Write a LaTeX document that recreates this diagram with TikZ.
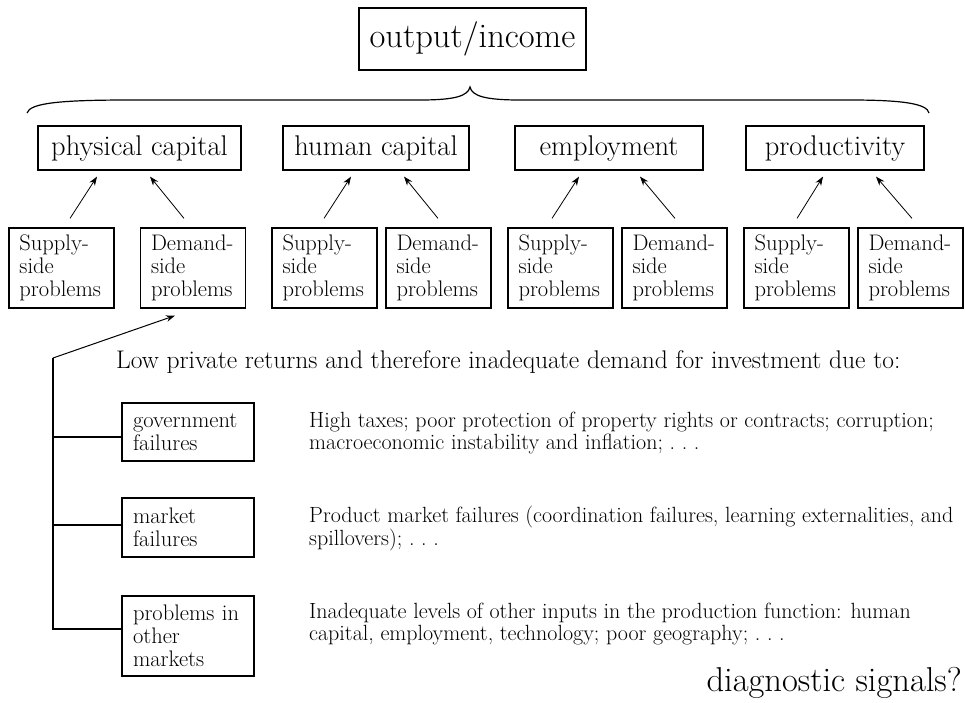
\documentclass[tikz,border=0pt]{standalone}
\usetikzlibrary{arrows.meta,calc}
\newcommand{\bigfnt}{\fontsize{34.5}{40}\selectfont}
\newcommand{\midfnt}{\fontsize{28.5}{32}\selectfont}
\newcommand{\lowfnt}{\fontsize{25.5}{29}\selectfont}
\newcommand{\boxfnt}{\fontsize{22.5}{23}\selectfont}
\newcommand{\descfnt}{\fontsize{22}{22.5}\selectfont}
\newcommand{\spdots}{.\ .\ .}
\begin{document}
\begin{tikzpicture}[x=1pt,y=-1pt,
  boxline/.style={draw, line width=1.2pt},
  topbox/.style={boxline, minimum width=227pt, minimum height=62pt, inner sep=0pt, font=\bigfnt},
  catbox/.style={boxline, minimum height=44pt, inner sep=0pt, font=\midfnt},
  probbox/.style={boxline, text width=84pt, inner xsep=10.5pt, inner ysep=0pt, minimum height=80pt, align=left, font=\boxfnt},
  failbox/.style={boxline, text width=110pt, inner xsep=11pt, inner ysep=0pt, align=left, font=\boxfnt},
  desc/.style={anchor=base west, inner sep=0pt, font=\descfnt},
  arr/.style={-{Stealth[length=9pt,width=6.5pt]}, line width=0.8pt},
  tree/.style={line width=1.2pt},
  bracel/.style={line width=1.2pt}
]
\useasboundingbox (0,0) rectangle (965,702);

% top
\node[topbox] (out) at (472.5,39) {output/income};

% brace
\draw[bracel] (27,113) .. controls (30,103) and (60,100) .. (130,100) -- (420,100)
  .. controls (455,100) and (468,96) .. (470,87)
  .. controls (472,96) and (485,100) .. (520,100) -- (850,100)
  .. controls (905,100) and (927,104) .. (929,113);

% categories
\node[catbox, minimum width=203pt] (P) at (139.5,148) {physical capital};
\node[catbox, minimum width=186pt] (H) at (376,148) {human capital};
\node[catbox, minimum width=188pt] (E) at (609,148) {employment};
\node[catbox, minimum width=178pt] (R) at (835,148) {productivity};

% problems
\node[probbox] (S1) at (61.5,268) {Supply-\\side\\problems};
\node[probbox] (D1) at (193,268) {Demand-\\side\\problems};
\node[probbox] (S2) at (324.5,268) {Supply-\\side\\problems};
\node[probbox] (D2) at (438.5,268) {Demand-\\side\\problems};
\node[probbox] (S3) at (560.5,268) {Supply-\\side\\problems};
\node[probbox] (D3) at (674.5,268) {Demand-\\side\\problems};
\node[probbox] (S4) at (796.5,268) {Supply-\\side\\problems};
\node[probbox] (D4) at (910.5,268) {Demand-\\side\\problems};

% arrows
\draw[arr] ([xshift=8.5pt,yshift=9pt]S1.north) -- ([xshift=-42.5pt,yshift=-6pt]P.south);
\draw[arr] ([xshift=-9pt,yshift=9pt]D1.north) -- ([xshift=10.5pt,yshift=-6pt]P.south);
\draw[arr] ([xshift=-0.5pt,yshift=9pt]S2.north) -- ([xshift=-25pt,yshift=-6pt]H.south);
\draw[arr] ([xshift=-0.5pt,yshift=9pt]D2.north) -- ([xshift=28pt,yshift=-6pt]H.south);
\draw[arr] ([xshift=-8.5pt,yshift=9pt]S3.north) -- ([xshift=-30pt,yshift=-6pt]E.south);
\draw[arr] ([xshift=0.5pt,yshift=9pt]D3.north) -- ([xshift=31pt,yshift=-6pt]E.south);
\draw[arr] ([xshift=0.5pt,yshift=9pt]S4.north) -- ([xshift=-12pt,yshift=-6pt]R.south);
\draw[arr] ([xshift=1.5pt,yshift=9pt]D4.north) -- ([xshift=41pt,yshift=-6pt]R.south);

% lower part
\node[anchor=base west, inner sep=0pt, font=\lowfnt] (low) at (116,368)
  {Low private returns and therefore inadequate demand for investment due to:};

\node[failbox, minimum height=58pt] (G) at (188,432) {government\\failures};
\node[failbox, minimum height=59pt] (M) at (188,527.5) {market\\failures};
\node[failbox, minimum height=80pt] (O) at (188,636) {problems in\\other\\markets};

\coordinate (J) at (53,358);
\coordinate (Gb) at ([yshift=-5pt]G.west);
\coordinate (Mb) at ([yshift=2.5pt]M.west);
\coordinate (Ob) at ([yshift=7pt]O.west);
\draw[arr, line width=1pt] (J) -- ([xshift=-18pt,yshift=-7pt]D1.south);
\draw[tree] (J) -- (J |- Ob) -- (Ob);
\draw[tree] (J |- Gb) -- (Gb);
\draw[tree] (J |- Mb) -- (Mb);

\node[desc] (GT) at (309,427) {\begin{tabular}[t]{@{}l@{}}High taxes; poor protection of property rights or contracts; corruption;\\macroeconomic instability and inflation; \spdots\end{tabular}};
\node[desc] (MT) at (309,522) {\begin{tabular}[t]{@{}l@{}}Product market failures (coordination failures, learning externalities, and\\spillovers); \spdots\end{tabular}};
\node[desc] (OT) at (309,618) {\begin{tabular}[t]{@{}l@{}}Inadequate levels of other inputs in the production function: human\\capital, employment, technology; poor geography; \spdots\end{tabular}};

\node[anchor=base east, inner sep=0pt, font=\bigfnt] (diag) at (962,691) {diagnostic signals?};
\end{tikzpicture}
\end{document}
